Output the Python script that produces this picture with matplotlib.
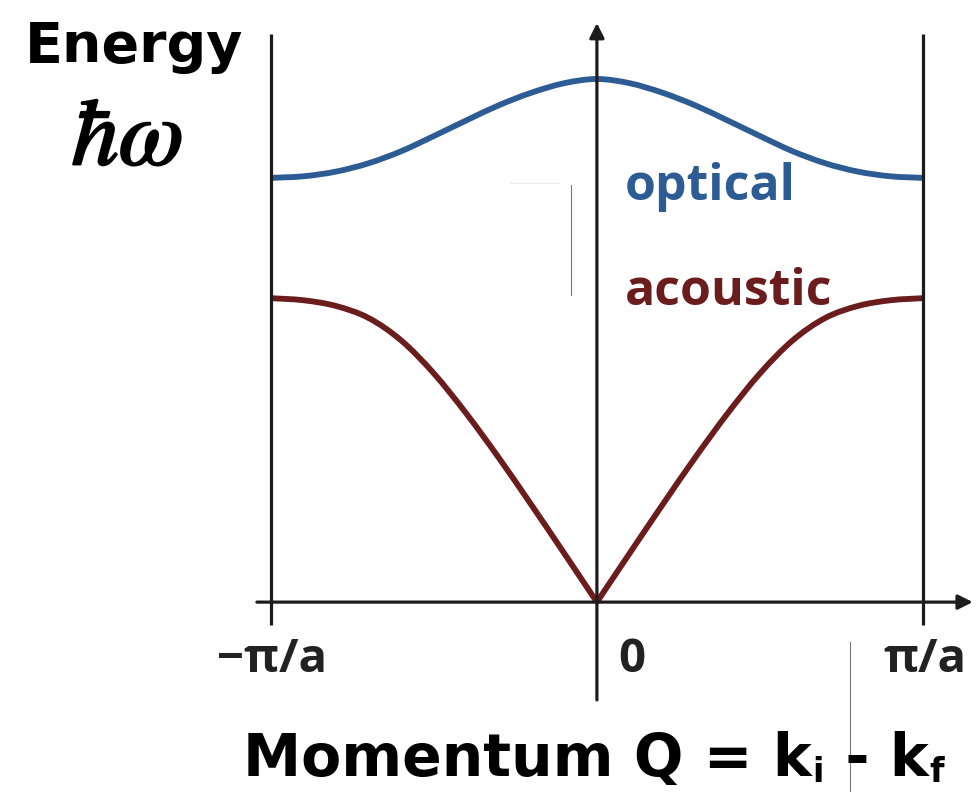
import matplotlib
matplotlib.use("Agg")
import matplotlib.pyplot as plt
import matplotlib.patheffects as pe
from matplotlib.lines import Line2D
from matplotlib.path import Path
from matplotlib.patches import PathPatch

# dispersion readings over half the zone, k in units of pi/a (-1 = zone edge, 0 = centre)
k_half = [-1.0, -0.9, -0.8, -0.7, -0.6, -0.5, -0.4, -0.3, -0.2, -0.1, 0.0]
w_opt = [0.811, 0.814, 0.823, 0.839, 0.862, 0.891, 0.921, 0.950, 0.974, 0.992, 1.0]
w_ac = [0.581, 0.577, 0.566, 0.543, 0.500, 0.437, 0.360, 0.275, 0.185, 0.093, 0.0]

tick_pos = [-1, 0, 1]
tick_txt = ["\u2212\u03c0/a", "0", "\u03c0/a"]

optical_col = "#2d5b94"
acoustic_col = "#6b1c1c"
axis_col = "#1c1c1c"


def mirror(k, w):
    # the branches are symmetric about k = 0
    kk = list(k) + [-v for v in reversed(k[:-1])]
    ww = list(w) + list(reversed(w[:-1]))
    return kk, ww


def smooth(ax, xs, ys, **kw):
    # Catmull-Rom spline through the points, drawn as cubic Bezier segments
    pts = list(zip(xs, ys))
    n = len(pts)
    verts = [pts[0]]
    codes = [Path.MOVETO]
    for i in range(n - 1):
        p0 = pts[max(i - 1, 0)]
        p1 = pts[i]
        p2 = pts[i + 1]
        p3 = pts[min(i + 2, n - 1)]
        c1 = (p1[0] + (p2[0] - p0[0]) / 6, p1[1] + (p2[1] - p0[1]) / 6)
        c2 = (p2[0] - (p3[0] - p1[0]) / 6, p2[1] - (p3[1] - p1[1]) / 6)
        verts += [c1, c2, p2]
        codes += [Path.CURVE4] * 3
    ax.add_patch(PathPatch(Path(verts, codes), fill=False, **kw))


fig = plt.figure(figsize=(9.78, 7.92), dpi=100)
ax = fig.add_axes([0, 0, 1, 1])
ax.set_xlim(-1.831, 1.169)
ax.set_ylim(-0.363, 1.151)
ax.axis("off")

# zone boundaries
for kb in (-1, 1):
    ax.plot([kb, kb], [-0.044, 1.086], color=axis_col, lw=2.3, solid_capstyle="butt")

# axes with arrow heads
arr = dict(arrowstyle="-|>", lw=2.3, color=axis_col, mutation_scale=22, shrinkA=0, shrinkB=0)
ax.annotate("", xy=(1.153, 0), xytext=(-1.043, 0), arrowprops=arr)
ax.annotate("", xy=(0, 1.107), xytext=(0, -0.187), arrowprops=arr)

ko, wo = mirror(k_half, w_opt)
line = dict(lw=4.2, capstyle="butt", joinstyle="round")
smooth(ax, ko, wo, edgecolor=optical_col, **line)
# acoustic branch has a cusp at k = 0, so each side is drawn on its own
smooth(ax, k_half, w_ac, edgecolor=acoustic_col, **line)
smooth(ax, [-v for v in reversed(k_half)], list(reversed(w_ac)), edgecolor=acoustic_col, **line)

W, H = 978.0, 792.0


def fx(px):
    return px / W


def fy(py):
    return 1 - py / H


lab = dict(family="Open Sans", fontweight="bold", va="baseline")
fig.text(fx(625), fy(200), "optical", color=optical_col, fontsize=36, **lab)
fig.text(fx(625), fy(305), "acoustic", color=acoustic_col, fontsize=36, **lab)

tick_px = {-1: (217, "left"), 0: (632, "center"), 1: (883, "left")}
for p, s in zip(tick_pos, tick_txt):
    x, ha = tick_px[p]
    fig.text(fx(x), fy(672), s, color="#222222", fontsize=34, ha=ha, **lab)

head = dict(family="DejaVu Sans", fontweight="bold", color="black", va="baseline")
fig.text(fx(134), fy(62), "Energy", fontsize=40, ha="center", **head)
fig.text(fx(127), fy(165), r"$\hbar\omega$", fontsize=68, ha="center",
         va="baseline", math_fontfamily="stix", color="black",
         path_effects=[pe.withStroke(linewidth=1.6, foreground="black")])

# axis title built piece by piece so the subscripts sit low and small
renderer = fig.canvas.get_renderer()
x = 243.0
parts = [("Momentum Q = k", 42, 776), ("i", 24, 782), (" - k", 42, 776), ("f", 24, 782)]
for s, size, base in parts:
    t = fig.text(fx(x), fy(base), s, fontsize=size, ha="left", **head)
    x += t.get_window_extent(renderer).width + 1

# stray rule marks in the artwork
for x0, y0, y1 in [(571, 185, 295), (850, 642, 792)]:
    fig.add_artist(Line2D([fx(x0), fx(x0)], [fy(y0), fy(y1)], color="#777777", lw=0.8))
fig.add_artist(Line2D([fx(510), fx(558)], [fy(183), fy(183)], color="#ececec", lw=1.0))

fig.savefig("out.png", dpi=100, facecolor="white")
